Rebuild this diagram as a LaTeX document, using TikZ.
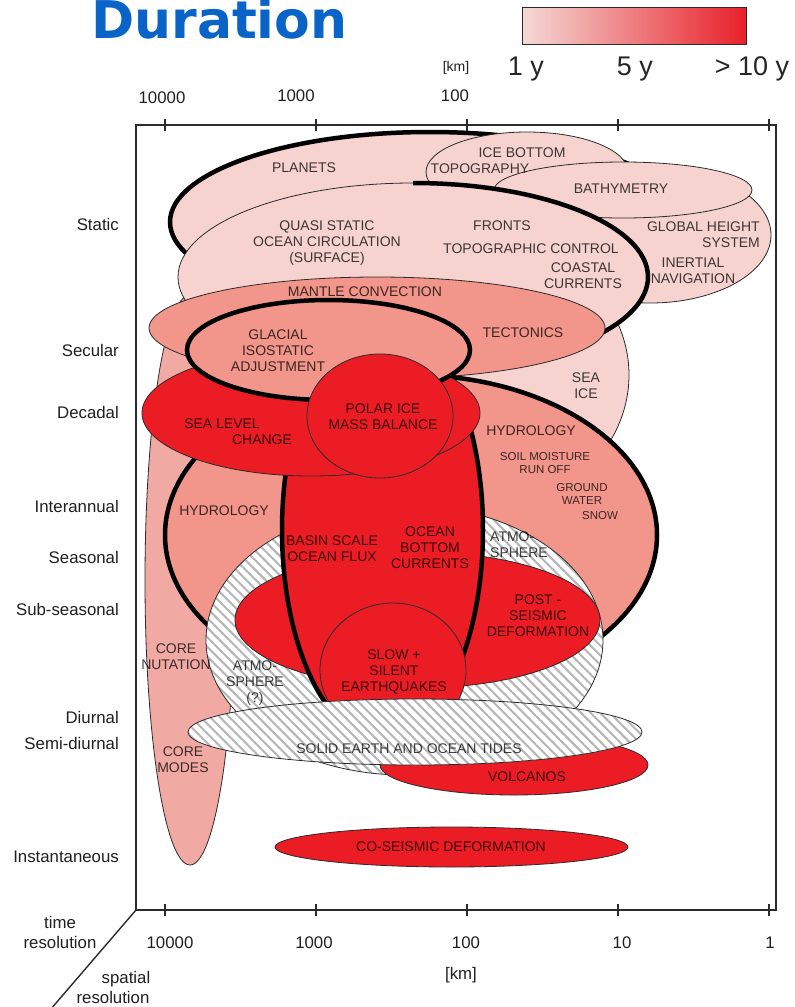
\documentclass[tikz,border=0pt]{standalone}
\usepackage{fontspec}
\setmainfont{Liberation Sans}
\newfontfamily\headfont{DejaVu Sans}
\usetikzlibrary{patterns.meta}

\definecolor{lightpink}{HTML}{F6D3CF}
\definecolor{salmon}{HTML}{F2958A}
\definecolor{corepink}{HTML}{F0AAA3}
\definecolor{quakered}{HTML}{EC1C24}
\definecolor{edgegray}{HTML}{2B2B2B}
\definecolor{hatchgray}{HTML}{B4B4B4}
\definecolor{titleblue}{HTML}{0A64C8}
\definecolor{barlow}{HTML}{F4DAD6}
\definecolor{barmid}{HTML}{F0988A}
\definecolor{barhigh}{HTML}{E8202A}

\begin{document}
\begin{tikzpicture}[x=1pt, y=-1pt,
  thin edge/.style={draw=edgegray, line width=0.8pt},
  bold edge/.style={draw=black, line width=4.5pt},
  pale region/.style={thin edge, fill=lightpink},
  pale bold region/.style={bold edge, fill=lightpink},
  salmon region/.style={thin edge, fill=salmon},
  salmon bold region/.style={bold edge, fill=salmon},
  core region/.style={thin edge, fill=corepink},
  red region/.style={thin edge, fill=quakered},
  red bold region/.style={bold edge, fill=quakered},
  hatched region/.style={thin edge, preaction={fill=white},
    pattern={Lines[angle=-45, distance=6.8pt, line width=2pt]}, pattern color=hatchgray},
  frame line/.style={draw=edgegray, line width=1.4pt},
  tick mark/.style={draw=edgegray, line width=2.6pt},
  lbl/.style={font=\fontsize{14}{16}\selectfont, text=black, text opacity=0.75, align=center, inner sep=0pt},
  small lbl/.style={lbl, font=\fontsize{11.5}{13}\selectfont},
  axis lbl/.style={font=\fontsize{16.8}{20}\selectfont, text=black!88, inner sep=0pt},
  legend lbl/.style={font=\fontsize{27}{30}\selectfont, text=black!85, inner sep=0pt},
]
\useasboundingbox (0,0) rectangle (795,1007);
\clip (0,0) rectangle (795,1007);

% ---------- title and duration scale ----------
\node[font=\headfont\bfseries\fontsize{52}{52}\selectfont, text=titleblue,
      anchor=base west, inner sep=0pt] (title) at (91,38) {Duration};
\node[draw=edgegray, line width=1pt, minimum width=224pt, minimum height=37pt,
      inner sep=0pt, left color=barlow, middle color=barmid, right color=barhigh]
      (colorbar) at (634,25.5) {};
\node[legend lbl, anchor=base] (dur1) at (526,75) {1 y};
\node[legend lbl, anchor=base] (dur5) at (635,75) {5 y};
\node[legend lbl, anchor=base] (dur10) at (752,75) {> 10 y};

% ---------- regions, back to front ----------
\filldraw[core region] (190,580) ellipse [x radius=45, y radius=285];
\filldraw[pale region] (418,375) ellipse [x radius=211, y radius=160];
\filldraw[pale bold region] (430,222) ellipse [x radius=260, y radius=90];
\filldraw[pale region] (527,172) ellipse [x radius=101, y radius=40];
\filldraw[pale region] (650,235) ellipse [x radius=121, y radius=68];
\filldraw[pale region] (623,190) ellipse [x radius=129, y radius=28];
\filldraw[pale region] (413,277) ellipse [x radius=235, y radius=94];
\draw[bold edge] (413,183) arc[start angle=-90, end angle=40, x radius=235, y radius=94];
\filldraw[salmon region] (377,328) ellipse [x radius=228, y radius=51];
\filldraw[salmon bold region] (411,535) ellipse [x radius=246, y radius=160];
\filldraw[hatched region] (404.5,640) ellipse [x radius=198.5, y radius=135];
\filldraw[red region] (417.5,620) ellipse [x radius=182.5, y radius=68];
\filldraw[red bold region] (382.5,530) ellipse [x radius=100.5, y radius=210];
\filldraw[red region] (311,413) ellipse [x radius=169, y radius=63];
\filldraw[salmon bold region] (328.5,350) ellipse [x radius=141.5, y radius=50];
\filldraw[red region] (380,416) ellipse [x radius=73, y radius=62];
\filldraw[red region] (393,670) ellipse [x radius=73, y radius=67];
\filldraw[red region] (514,765) ellipse [x radius=134, y radius=30];
\filldraw[hatched region] (415,732) ellipse [x radius=227, y radius=33];
\filldraw[red region] (451.5,847) ellipse [x radius=176.5, y radius=20];

% ---------- frame and axes ----------
\draw[frame line] (136,125) rectangle (776,910);
\foreach \tx in {165,316,467,618,769} {
  \draw[tick mark] (\tx,119) -- (\tx,131);
  \draw[tick mark] (\tx,904) -- (\tx,916);
}
\coordinate (origin) at (136,910);
\coordinate (diagfoot) at (44,1017);
\draw[frame line] (origin) -- (diagfoot);

\node[axis lbl] (top10000) at (162,98) {10000};
\node[axis lbl] (top1000) at (296,96) {1000};
\node[axis lbl] (top100) at (455,96) {100};
\node[axis lbl, font=\fontsize{14}{16}\selectfont] (topkm) at (456,68) {[km]};

\node[axis lbl] (bot10000) at (170,943) {10000};
\node[axis lbl] (bot1000) at (314,943) {1000};
\node[axis lbl] (bot100) at (466,943) {100};
\node[axis lbl] (bot10) at (622,943) {10};
\node[axis lbl] (bot1) at (770,943) {1};
\node[axis lbl] (botkm) at (461,975) {[km]};

\node[axis lbl] (timeword) at (60,922) {time};
\node[axis lbl] (timeres) at (60,942) {resolution};
\node[axis lbl] (spaceword) at (126,979) {spatial};
\node[axis lbl] (spaceres) at (113,997) {resolution};

\foreach \nm/\ty/\txt in {static/224/Static, secular/350/Secular, decadal/412/Decadal,
    interannual/506/Interannual, seasonal/557/Seasonal, subseasonal/609/Sub-seasonal,
    diurnal/717/Diurnal, semidiurnal/743/Semi-diurnal, instant/857/Instantaneous}
  \node[axis lbl, anchor=east] (\nm) at (119,\ty) {\txt};

% ---------- region labels ----------
\node[lbl] (planets) at (304,168) {PLANETS};
\node[lbl] (icebottom) at (522,153) {ICE BOTTOM};
\node[lbl] (topography) at (480,169) {TOPOGRAPHY};
\node[lbl] (bathymetry) at (621,189) {BATHYMETRY};
\node[lbl] (quasistatic) at (327,243) {QUASI STATIC\\OCEAN CIRCULATION\\(SURFACE)};
\node[lbl] (fronts) at (502,226) {FRONTS};
\node[lbl] (topocontrol) at (531,249) {TOPOGRAPHIC CONTROL};
\node[lbl] (coastal) at (583,276) {COASTAL\\CURRENTS};
\node[lbl, anchor=east, align=right] (globalheight) at (760,235) {GLOBAL HEIGHT\\SYSTEM};
\node[lbl] (inertial) at (693,271) {INERTIAL\\NAVIGATION};
\node[lbl] (mantle) at (365,292) {MANTLE CONVECTION};
\node[lbl] (tectonics) at (523,333) {TECTONICS};
\node[lbl] (glacial) at (278,351) {GLACIAL\\ISOSTATIC\\ADJUSTMENT};
\node[lbl] (seaice) at (586,386) {SEA\\ICE};
\node[lbl] (polarice) at (383,417) {POLAR ICE\\MASS BALANCE};
\node[lbl] (sealevel) at (222,424) {SEA LEVEL};
\node[lbl] (change) at (262,440) {CHANGE};
\node[lbl] (hydroright) at (531,431) {HYDROLOGY};
\node[small lbl] (soil) at (545,463) {SOIL MOISTURE\\RUN OFF};
\node[small lbl] (groundwater) at (582,494) {GROUND\\WATER};
\node[small lbl] (snow) at (600,516) {SNOW};
\node[lbl] (hydroleft) at (224,511) {HYDROLOGY};
\node[lbl] (basin) at (332,549) {BASIN SCALE\\OCEAN FLUX};
\node[lbl] (bottomcurr) at (430,548) {OCEAN\\BOTTOM\\CURRENTS};
\node[lbl, anchor=west, align=left] (atmoright) at (490,545) {ATMO-\\SPHERE};
\node[lbl] (postseismic) at (538,616) {POST -\\SEISMIC\\DEFORMATION};
\node[lbl] (nutation) at (176,657) {CORE\\NUTATION};
\node[lbl] (atmoleft) at (255,683) {ATMO-\\SPHERE\\(?)};
\node[lbl] (slow) at (394,672) {SLOW +\\SILENT\\EARTHQUAKES};
\node[lbl] (tides) at (409,749) {SOLID EARTH AND OCEAN TIDES};
\node[lbl] (coremodes) at (183,760) {CORE\\MODES};
\node[lbl] (volcanos) at (527,777) {VOLCANOS};
\node[lbl] (coseismic) at (451,847) {CO-SEISMIC DEFORMATION};
\end{tikzpicture}
\end{document}
